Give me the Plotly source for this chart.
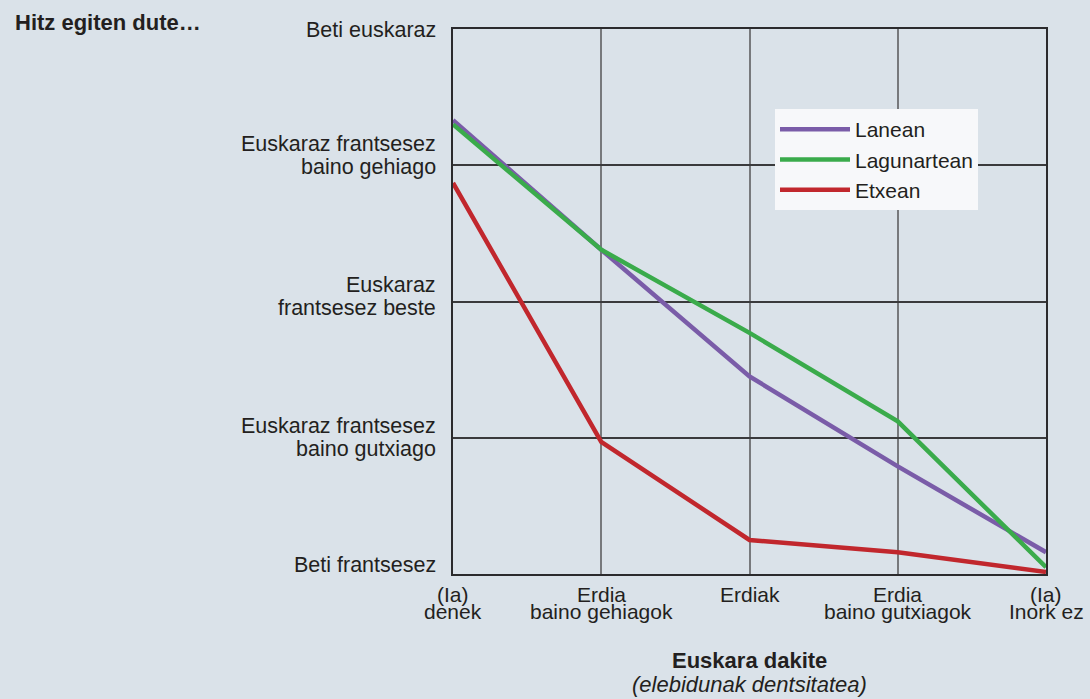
import plotly.graph_objects as go

# ---------------- data ----------------
x_positions = [0, 1, 2, 3, 4]
x_label_top = ["(Ia)", "Erdia", "Erdiak", "Erdia", "(Ia)"]
x_label_bottom = ["denek", "baino gehiagok", "", "baino gutxiagok", "Inork ez"]

y_levels = [0, 1, 2, 3, 4]
y_label_lines = [
    ["Beti frantsesez"],
    ["Euskaraz frantsesez", "baino gutxiago"],
    ["Euskaraz", "frantsesez beste"],
    ["Euskaraz frantsesez", "baino gehiago"],
    ["Beti euskaraz"],
]

series_names = ["Lanean", "Lagunartean", "Etxean"]
lanean = [3.33, 2.38, 1.45, 0.79, 0.16]
lagunartean = [3.30, 2.38, 1.77, 1.12, 0.05]
etxean = [2.87, 0.97, 0.25, 0.16, 0.015]

title_text = "Hitz egiten dute…"
xaxis_title = "Euskara dakite"
xaxis_subtitle = "(elebidunak dentsitatea)"

# ---------------- styles ----------------
colors = ["#7a5ca8", "#3aab4b", "#c1272d"]
bg = "#dae2e9"
font_family = "Liberation Sans, Arial, Helvetica, sans-serif"
text_color = "#231f20"
label_size = 21.5
line_gap = 23          # px between lines of a y label
label_center_dy = [-9, 0, -5, -10, 1]   # px offset of label block centre (negative = up)

fig = go.Figure()
for name, vals, col in zip(series_names, [lanean, lagunartean, etxean], colors):
    fig.add_trace(go.Scatter(
        x=x_positions, y=vals, mode="lines", name=name,
        line=dict(color=col, width=4.5),
        hoverinfo="skip",
    ))

annotations = []
# y labels
for lvl, lines, dy in zip(y_levels, y_label_lines, label_center_dy):
    n = len(lines)
    for i, txt in enumerate(lines):
        offset = dy + (i - (n - 1) / 2) * line_gap
        annotations.append(dict(
            text=txt, xref="paper", yref="y", x=0, y=lvl,
            xanchor="right", yanchor="middle", xshift=-15, yshift=-offset,
            showarrow=False, font=dict(size=label_size, color=text_color, family=font_family),
        ))
# x labels
for xp, top, bot in zip(x_positions, x_label_top, x_label_bottom):
    annotations.append(dict(
        text=top, xref="x", yref="paper", x=xp, y=0,
        xanchor="center", yanchor="middle", yshift=-20,
        showarrow=False, font=dict(size=21, color=text_color, family=font_family),
    ))
    if bot:
        annotations.append(dict(
            text=bot, xref="x", yref="paper", x=xp, y=0,
            xanchor="center", yanchor="middle", yshift=-37,
            showarrow=False, font=dict(size=21, color=text_color, family=font_family),
        ))
# axis titles
annotations.append(dict(
    text="<b>" + xaxis_title + "</b>", xref="paper", yref="paper", x=0.5, y=0,
    xanchor="center", yanchor="middle", yshift=-86, showarrow=False,
    font=dict(size=22, color=text_color, family=font_family),
))
annotations.append(dict(
    text="<i>" + xaxis_subtitle + "</i>", xref="paper", yref="paper", x=0.5, y=0,
    xanchor="center", yanchor="middle", yshift=-110, showarrow=False,
    font=dict(size=22, color=text_color, family=font_family),
))
# chart title
annotations.append(dict(
    text="<b>" + title_text + "</b>", xref="paper", yref="paper", x=(13 - 453) / 593, y=1,
    xanchor="left", yanchor="middle", yshift=7, showarrow=False,
    font=dict(size=22, color=text_color, family=font_family),
))

fig.update_layout(
    width=1090, height=699,
    margin=dict(l=453, r=44, t=29, b=125),
    paper_bgcolor=bg, plot_bgcolor=bg,
    font=dict(family=font_family, color=text_color),
    showlegend=True,
    legend=dict(
        x=(775 - 453) / 593, y=(574 - 109) / 545, xanchor="left", yanchor="top",
        bgcolor="#f7f8fa", borderwidth=0,
        font=dict(size=21, color=text_color, family=font_family),
        itemwidth=70, tracegroupgap=0,
    ),
    annotations=annotations,
    xaxis=dict(
        range=[0, 4], tickvals=x_positions, showticklabels=False, ticks="",
        showgrid=True, gridcolor="#77797c", gridwidth=2,
        showline=True, linecolor="#2b2b2d", linewidth=2, mirror=True,
        zeroline=False, fixedrange=True,
    ),
    yaxis=dict(
        range=[0, 4], tickvals=y_levels, showticklabels=False, ticks="",
        showgrid=True, gridcolor="#3a3a3c", gridwidth=1.5,
        showline=True, linecolor="#2b2b2d", linewidth=2, mirror=True,
        zeroline=False, fixedrange=True,
    ),
)

fig.write_html(
    "out.html",
    config={"displayModeBar": False},
    post_script="document.body.style.margin='0';document.body.style.background='" + bg + "';",
)
